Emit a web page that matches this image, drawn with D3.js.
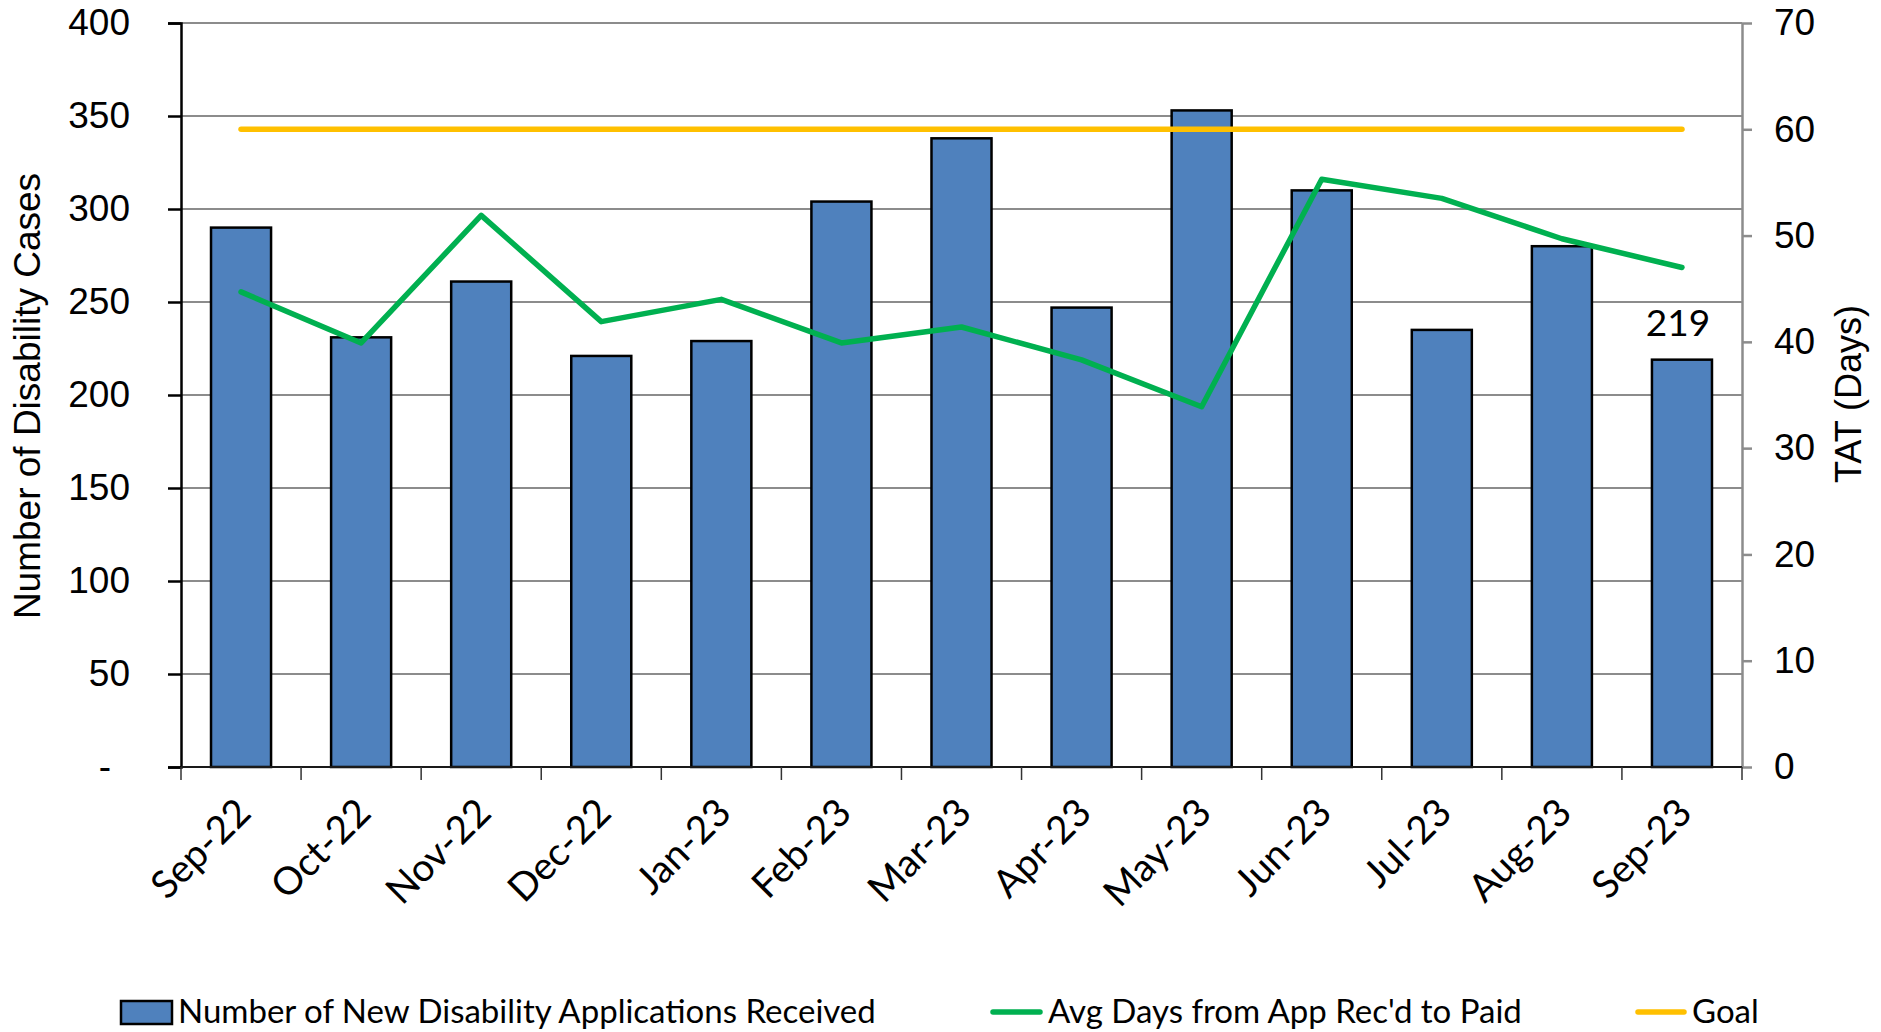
<!DOCTYPE html>
<html>
<head>
<meta charset="utf-8">
<script src="https://cdn.jsdelivr.net/npm/d3@7"></script>
<style>
	body { margin: 0; background: #fff; }
	svg { display: block; }
</style>
</head>
<body>
<script>
// Chart data
const months = ["Sep-22", "Oct-22", "Nov-22", "Dec-22", "Jan-23", "Feb-23", "Mar-23", "Apr-23", "May-23", "Jun-23", "Jul-23", "Aug-23", "Sep-23"];
const applications = [290, 231, 261, 221, 229, 304, 338, 247, 353, 310, 235, 280, 219];
const avgDays = [44.7, 39.9, 51.9, 41.9, 44.0, 39.9, 41.4, 38.3, 33.9, 55.3, 53.5, 49.7, 47.0];
const goal = [60, 60, 60, 60, 60, 60, 60, 60, 60, 60, 60, 60, 60];
const leftTicks = [0, 50, 100, 150, 200, 250, 300, 350, 400];
const rightTicks = [0, 10, 20, 30, 40, 50, 60, 70];

const width = 1881;
const height = 1032;
const margin = { top: 23, right: 139, bottom: 265, left: 181 };

const svg = d3.select("body").append("svg").attr("width", width).attr("height", height);

// Scales
const x = d3
	.scaleBand()
	.domain(months)
	.range([margin.left, width - margin.right])
	.paddingInner(0.5)
	.paddingOuter(0.25);

const xBand = d3.scaleBand().domain(months).range([margin.left, width - margin.right]);

const yLeft = d3.scaleLinear().domain([0, 400]).range([height - margin.bottom, margin.top]);
const yRight = d3.scaleLinear().domain([0, 70]).range([height - margin.bottom, margin.top]);

const plotBottom = height - margin.bottom;
const plotRight = width - margin.right;

// Gridlines
svg.append("g")
	.selectAll("line")
	.data(leftTicks.filter((d) => d > 0 && d < 400))
	.enter()
	.append("line")
	.attr("x1", margin.left)
	.attr("x2", plotRight)
	.attr("y1", (d) => yLeft(d))
	.attr("y2", (d) => yLeft(d))
	.attr("stroke", "#1a1a1a")
	.attr("stroke-width", 1.2);

// top border
svg.append("line")
	.attr("x1", margin.left)
	.attr("x2", plotRight)
	.attr("y1", yLeft(400))
	.attr("y2", yLeft(400))
	.attr("stroke", "#8c8c8c")
	.attr("stroke-width", 2);

// Bars
svg.selectAll(".bar")
	.data(applications)
	.enter()
	.append("rect")
	.attr("class", "bar")
	.attr("x", (d, i) => x(months[i]))
	.attr("y", (d) => yLeft(d))
	.attr("width", x.bandwidth())
	.attr("height", (d) => yLeft(0) - yLeft(d))
	.attr("fill", "#4F81BD")
	.attr("stroke", "#000")
	.attr("stroke-width", 2.5);

// Last bar value label
const last = applications.length - 1;
svg.append("text")
	.attr("x", x(months[last]) + x.bandwidth() / 2 - 4)
	.attr("y", yLeft(applications[last]) - 24)
	.attr("text-anchor", "middle")
	.style("font-family", "Lato, sans-serif")
	.style("font-size", "37px")
	.text(applications[last]);

// Lines
const lineGen = d3
	.line()
	.x((d, i) => x(months[i]) + x.bandwidth() / 2)
	.y((d) => yRight(d));

svg.append("path")
	.datum(goal)
	.attr("d", lineGen)
	.attr("fill", "none")
	.attr("stroke", "#FFC000")
	.attr("stroke-width", 5.5)
	.attr("stroke-linecap", "round");

svg.append("path")
	.datum(avgDays)
	.attr("d", lineGen)
	.attr("fill", "none")
	.attr("stroke", "#00B050")
	.attr("stroke-width", 5.5)
	.attr("stroke-linecap", "round")
	.attr("stroke-linejoin", "round");

// Left axis
const leftAxis = svg
	.append("g")
	.attr("transform", `translate(${margin.left}, 0)`)
	.call(
		d3.axisLeft(yLeft)
			.tickValues(leftTicks)
			.tickSize(13)
			.tickPadding(38)
			.tickFormat((d) => (d === 0 ? "-" : d))
	);
leftAxis.select(".domain").attr("stroke", "#000").attr("stroke-width", 2.5);
leftAxis.selectAll(".tick line").attr("stroke", "#000").attr("stroke-width", 2.5);
leftAxis.selectAll(".tick text")
	.style("font-family", "'Liberation Sans', Arial, sans-serif")
	.style("font-size", "37px")
	.attr("fill", "#000");
leftAxis.selectAll(".tick text").filter((d) => d === 0).attr("x", -70);

// Right axis
const rightAxis = svg
	.append("g")
	.attr("transform", `translate(${plotRight}, 0)`)
	.call(d3.axisRight(yRight).tickValues(rightTicks).tickSize(10).tickPadding(22).tickSizeOuter(0));
rightAxis.select(".domain").attr("stroke", "#8c8c8c").attr("stroke-width", 2.5);
rightAxis.selectAll(".tick line").attr("stroke", "#8c8c8c").attr("stroke-width", 2.5);
rightAxis.selectAll(".tick text")
	.style("font-family", "'Liberation Sans', Arial, sans-serif")
	.style("font-size", "37px")
	.attr("fill", "#000");

// X axis line and boundary ticks
svg.append("line")
	.attr("x1", margin.left)
	.attr("x2", plotRight)
	.attr("y1", plotBottom)
	.attr("y2", plotBottom)
	.attr("stroke", "#1a1a1a")
	.attr("stroke-width", 2);

svg.append("g")
	.selectAll("line")
	.data(months.concat(["end"]))
	.enter()
	.append("line")
	.attr("x1", (d, i) => margin.left + i * xBand.step())
	.attr("x2", (d, i) => margin.left + i * xBand.step())
	.attr("y1", plotBottom)
	.attr("y2", plotBottom + 13)
	.attr("stroke", "#333")
	.attr("stroke-width", 1.5);

// X labels
svg.append("g")
	.selectAll("text")
	.data(months)
	.enter()
	.append("text")
	.attr("transform", (d) => `translate(${x(d) + x.bandwidth() / 2 + 12}, ${plotBottom + 48}) rotate(-45)`)
	.attr("text-anchor", "end")
	.style("font-family", "Lato, sans-serif")
	.style("font-size", "38.5px")
	.text((d) => d);

// Axis titles
svg.append("text")
	.attr("transform", `translate(40, 396) rotate(-90)`)
	.attr("text-anchor", "middle")
	.style("font-family", "'Liberation Sans', Arial, sans-serif")
	.style("font-size", "37px")
	.text("Number of Disability Cases");

svg.append("text")
	.attr("transform", `translate(1861, 394) rotate(-90)`)
	.attr("text-anchor", "middle")
	.style("font-family", "'Liberation Sans', Arial, sans-serif")
	.style("font-size", "36px")
	.text("TAT (Days)");

// Legend
const legendFont = { family: "Lato, sans-serif", size: "33px" };
const legend = svg.append("g");

legend.append("rect")
	.attr("x", 121)
	.attr("y", 1001)
	.attr("width", 51)
	.attr("height", 23)
	.attr("fill", "#4F81BD")
	.attr("stroke", "#000")
	.attr("stroke-width", 2.5);

legend.append("text")
	.attr("x", 178)
	.attr("y", 1023)
	.style("font-family", legendFont.family)
	.style("font-size", legendFont.size)
	.text("Number of New Disability Applications Received");

legend.append("line")
	.attr("x1", 993)
	.attr("x2", 1040)
	.attr("y1", 1012)
	.attr("y2", 1012)
	.attr("stroke", "#00B050")
	.attr("stroke-width", 5.5)
	.attr("stroke-linecap", "round");

legend.append("text")
	.attr("x", 1048)
	.attr("y", 1023)
	.style("font-family", legendFont.family)
	.style("font-size", legendFont.size)
	.text("Avg Days from App Rec'd to Paid");

legend.append("line")
	.attr("x1", 1638)
	.attr("x2", 1684)
	.attr("y1", 1012)
	.attr("y2", 1012)
	.attr("stroke", "#FFC000")
	.attr("stroke-width", 5.5)
	.attr("stroke-linecap", "round");

legend.append("text")
	.attr("x", 1692)
	.attr("y", 1023)
	.style("font-family", legendFont.family)
	.style("font-size", legendFont.size)
	.text("Goal");
</script>
</body>
</html>
